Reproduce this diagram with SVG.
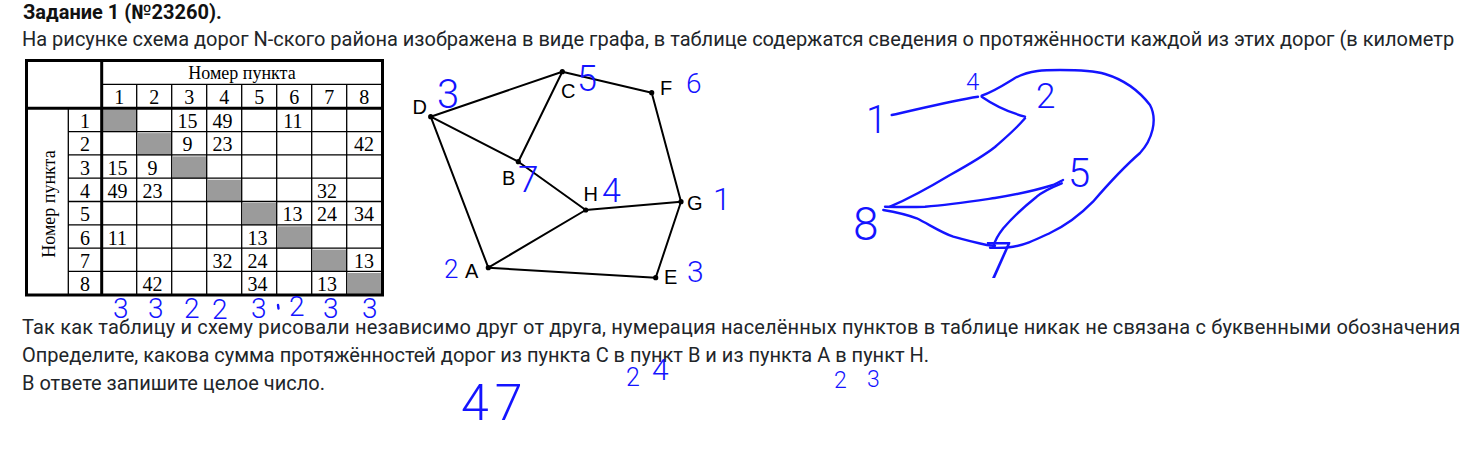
<svg xmlns="http://www.w3.org/2000/svg" width="1460" height="471" viewBox="0 0 1460 471">
<style>
.t{font-family:Roboto,"Liberation Sans",sans-serif;font-size:20px;fill:#212529}
.tb{font-family:Roboto,"Liberation Sans",sans-serif;font-size:20px;font-weight:bold;fill:#111}
.tab{font-family:"Liberation Serif",serif;font-size:20px;fill:#000;text-anchor:middle}
.hdr{font-family:"Liberation Serif",serif;font-size:18px;fill:#000;text-anchor:middle}
.thick{stroke:#000;stroke-width:3;fill:none}
.thin{stroke:#000;stroke-width:1.3;fill:none}
.gray{fill:#9b9b9b}
.edge{stroke:#000;stroke-width:2;fill:none}
.dot{fill:#000}
.lbl{font-family:"Liberation Sans",Arial,sans-serif;font-size:20px;fill:#000}
.hw{font-family:Roboto,"Liberation Sans",sans-serif;font-weight:300;fill:#1414ff}
.pen{stroke:#1414ff;stroke-width:2.4;fill:none;stroke-linecap:round;stroke-linejoin:round}
</style>

<text class="tb" x="23" y="18.5">Задание 1 (№23260).</text>
<text class="t" x="22" y="45.5">На рисунке схема дорог N-ского района изображена в виде графа, в таблице содержатся сведения о протяжённости каждой из этих дорог (в километр</text>
<text class="t" x="22" y="333.5" letter-spacing="0.17">Так как таблицу и схему рисовали независимо друг от друга, нумерация населённых пунктов в таблице никак не связана с буквенными обозначения</text>
<text class="t" x="22" y="361.5">Определите, какова сумма протяжённостей дорог из пункта C в пункт B и из пункта A в пункт H.</text>
<text class="t" x="22" y="389.5">В ответе запишите целое число.</text>

<g id="table">
<rect class="gray" x="102.7" y="109.8" width="34" height="22.3"/>
<rect class="gray" x="137.7" y="133.1" width="34" height="22.3"/>
<rect class="gray" x="172.7" y="156.4" width="34" height="22.3"/>
<rect class="gray" x="207.7" y="179.7" width="34" height="22.3"/>
<rect class="gray" x="242.7" y="203.0" width="34" height="22.3"/>
<rect class="gray" x="277.7" y="226.3" width="34" height="22.3"/>
<rect class="gray" x="312.7" y="249.6" width="34" height="22.3"/>
<rect class="gray" x="347.7" y="272.9" width="34" height="22.3"/>
<path class="thin" d="M101.7 84.3H382.5 M68.3 131.6H382.5 M68.3 154.9H382.5 M68.3 178.2H382.5 M68.3 201.5H382.5 M68.3 224.8H382.5 M68.3 248.1H382.5 M68.3 271.4H382.5 M136.7 84.3V295 M171.7 84.3V295 M206.7 84.3V295 M241.7 84.3V295 M276.7 84.3V295 M311.7 84.3V295 M346.7 84.3V295 M68.3 108.3V295"/>
<rect class="thick" x="26.5" y="60.5" width="356" height="234.5"/>
<path class="thick" d="M101.7 60.5V295 M26.5 108.3H382.5"/>
<text class="hdr" x="242" y="78.5">Номер пункта</text>
<text class="hdr" transform="translate(54.5,204) rotate(-90)">Номер пункта</text>
<g class="tab">
<text x="119.2" y="103.5">1</text><text x="154.2" y="103.5">2</text><text x="189.2" y="103.5">3</text><text x="224.2" y="103.5">4</text><text x="259.2" y="103.5">5</text><text x="294.2" y="103.5">6</text><text x="329.2" y="103.5">7</text><text x="364.2" y="103.5">8</text>
<text x="85" y="128">1</text><text x="85" y="151.3">2</text><text x="85" y="174.6">3</text><text x="85" y="197.9">4</text><text x="85" y="221.2">5</text><text x="85" y="244.5">6</text><text x="85" y="267.8">7</text><text x="85" y="291.1">8</text>
<text x="187.5" y="128">15</text><text x="222.5" y="128">49</text><text x="293" y="128">11</text>
<text x="187.5" y="151.3">9</text><text x="222.5" y="151.3">23</text><text x="364" y="151.3">42</text>
<text x="117.5" y="174.6">15</text><text x="152.5" y="174.6">9</text>
<text x="117.5" y="197.9">49</text><text x="152.5" y="197.9">23</text><text x="327" y="197.9">32</text>
<text x="292.5" y="221.2">13</text><text x="327" y="221.2">24</text><text x="364" y="221.2">34</text>
<text x="117.5" y="244.5">11</text><text x="257.5" y="244.5">13</text>
<text x="222.5" y="267.8">32</text><text x="257.5" y="267.8">24</text><text x="364" y="267.8">13</text>
<text x="152.5" y="291.1">42</text><text x="257.5" y="291.1">34</text><text x="327" y="291.1">13</text>
</g>
</g>

<g id="connectors">
<path class="edge" d="M430.7 116.7L562.3 71.7 M562.3 71.7L651.7 92.7 M651.7 92.7L681 201.7 M681 201.7L655.7 277.7 M655.7 277.7L488.3 267.7 M488.3 267.7L430.7 116.7 M430.7 116.7L518.3 161.7 M518.3 161.7L585.7 210 M562.3 71.7L518.3 161.7 M585.7 210L681 201.7 M585.7 210L488.3 267.7"/>
</g>
<g id="node-D"><circle class="dot" cx="430.7" cy="116.7" r="2.6"/><text class="lbl" x="412.5" y="113.5">D</text></g>
<g id="node-C"><circle class="dot" cx="562.3" cy="71.7" r="2.6"/><text class="lbl" x="561" y="97.7">C</text></g>
<g id="node-F"><circle class="dot" cx="651.7" cy="92.7" r="2.6"/><text class="lbl" x="660" y="95">F</text></g>
<g id="node-B"><circle class="dot" cx="518.3" cy="161.7" r="2.6"/><text class="lbl" x="502" y="185">B</text></g>
<g id="node-H"><circle class="dot" cx="585.7" cy="210" r="2.6"/><text class="lbl" x="583.5" y="200.7">H</text></g>
<g id="node-G"><circle class="dot" cx="681" cy="201.7" r="2.6"/><text class="lbl" x="687" y="210">G</text></g>
<g id="node-A"><circle class="dot" cx="488.3" cy="267.7" r="2.6"/><text class="lbl" x="465" y="277.7">A</text></g>
<g id="node-E"><circle class="dot" cx="655.7" cy="277.7" r="2.6"/><text class="lbl" x="664" y="284.3">E</text></g>

<g id="graph-annotations" class="hw">
<text x="437" y="108" font-size="40">3</text>
<text x="577" y="91" font-size="36">5</text>
<text x="686" y="93" font-size="28">6</text>
<text x="518" y="192" font-size="37">7</text>
<text x="602" y="202" font-size="34">4</text>
<text x="713" y="210" font-size="32">1</text>
<text x="444" y="278" font-size="26">2</text>
<text x="687" y="282" font-size="30">3</text>
</g>

<g id="column-annotations" class="hw" font-size="28">
<text x="113" y="318">3</text>
<text x="148" y="318">3</text>
<text x="184" y="318">2</text>
<text x="212" y="319">2</text>
<text x="251" y="318">3</text>
<text x="289" y="316">2</text>
<text x="323" y="318">3</text>
<text x="362" y="318">3</text>
</g>
<path class="pen" d="M278 305L278.5 308.5"/>

<g id="answer-annotations" class="hw">
<text x="461" y="420" font-size="50" letter-spacing="6">47</text>
<text font-size="25"><tspan x="626" y="386">2</tspan><tspan x="652" y="380" font-size="30">4</tspan></text>
<text font-size="23"><tspan x="834" y="388">2</tspan><tspan x="867" y="387">3</tspan></text>
</g>

<g id="sketch-connectors">
<path class="pen" d="M891.7 115C915 110 950 101 978 96.7"/>
<path class="pen" d="M981.7 96.7C995 106 1008 112 1025 116.7"/>
<path class="pen" d="M981.7 95.7C995 91 1005 84 1015 78C1030 70 1045 70 1060 70C1080 70 1095 71 1105 74C1125 80 1140 92 1150 105C1158 120 1152 140 1140 153C1125 166 1110 182 1093 201.7C1080 215 1065 226 1050 233C1035 240 1025 245 1013 246.7C1005 248 996 248 990 247.7"/>
<path class="pen" d="M1025 118.3C1015 130 1005 138 995 147C985 155 968 165 950 175C935 184 915 196 890 206.7"/>
<path class="pen" d="M885 206.7C900 207 915 207 925 206.7C950 205 975 201 995 198C1020 194 1040 189 1053 185C1058 183 1061 181 1063 180"/>
<path class="pen" d="M883.3 210C895 212 905 214 916.7 218.3C930 225 942 233 953.3 236.7C965 240 977 243 986.7 245C990 245.5 993 245.7 995 245.7"/>
<path class="pen" d="M1061.7 183.3C1050 188 1042 192 1036.7 196.7C1025 206 1012 218 1003.3 228.3C998 235 995 240 993.3 246.7"/>
</g>
<g id="sketch-node-1" class="hw"><text x="866" y="133" font-size="38">1</text></g>
<g id="sketch-node-4" class="hw"><text x="966" y="90" font-size="24">4</text></g>
<g id="sketch-node-2" class="hw"><text x="1036" y="108" font-size="35">2</text></g>
<g id="sketch-node-5" class="hw"><text x="1068" y="187" font-size="40">5</text></g>
<g id="sketch-node-8" class="hw"><text x="853" y="240" font-size="46">8</text></g>
<g id="sketch-node-7" class="hw"><text x="985" y="278" font-size="50">7</text></g>
</svg>
